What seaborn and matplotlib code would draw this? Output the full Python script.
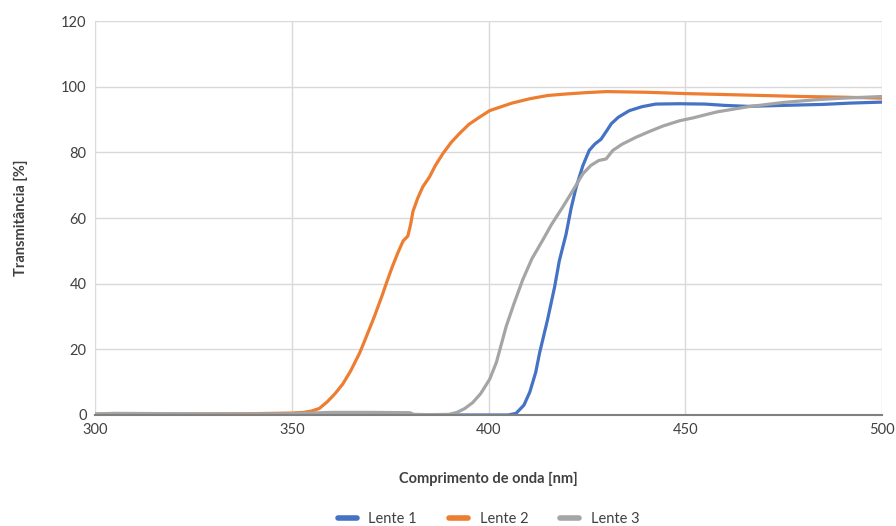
import matplotlib
matplotlib.use("Agg")
import matplotlib.pyplot as plt
import seaborn as sns
import pandas as pd

# Lente 1 (blue)
wl_1 = [300, 350, 400, 405, 407, 409, 410.5, 412, 413, 415, 416.8, 418, 419.7, 421, 422.3,
        424, 425.6, 427, 428.6, 430, 431.2, 433, 435.8, 439, 442.5, 448.5, 455, 460, 466,
        475, 485, 492, 500]
t_1 = [0, 0, 0, 0, 0.5, 3, 7, 13, 19, 29, 39, 47, 55, 63, 69.5,
       76, 80.6, 82.5, 84, 86.5, 88.7, 90.7, 92.7, 93.9, 94.7, 94.8, 94.7, 94.3, 94.0,
       94.3, 94.6, 95.0, 95.3]

# Lente 2 (orange)
wl_2 = [300, 320, 340, 350, 353, 355, 357, 359, 361, 363, 365, 367.3, 369, 371, 373, 374,
        375.5, 377, 378.3, 379.5, 380.2, 380.8, 382, 383.3, 385, 386.5, 388.4, 390.5, 392.6,
        395, 397.7, 400.3, 403, 406, 410.4, 415, 418.9, 425, 430, 435, 440, 445, 450, 460,
        470, 480, 490, 500]
t_2 = [0.3, 0.3, 0.4, 0.6, 0.8, 1.2, 2, 4, 6.5, 9.5, 13.5, 19, 24, 30, 36.5, 40,
       45, 49.5, 53, 54.5, 58, 62, 66, 69.5, 72.5, 76, 79.6, 83, 85.7,
       88.5, 90.7, 92.7, 93.8, 95, 96.3, 97.3, 97.7, 98.2, 98.5, 98.4, 98.3, 98.1, 97.9, 97.6,
       97.3, 97.0, 96.8, 96.5]

# Lente 3 (gray)
wl_3 = [300, 305, 320, 340, 350, 355, 360, 370, 380, 381, 385, 390, 392, 394, 396, 398,
        400.3, 402, 404.5, 406.5, 408.7, 411, 413.8, 416, 418.9, 421, 424, 426, 428, 429.9,
        431.6, 434, 437.5, 441, 444.3, 448.5, 452, 458, 466, 475, 483, 490, 500]
t_3 = [0.3, 0.5, 0.4, 0.3, 0.4, 0.6, 0.8, 0.8, 0.7, 0.2, 0.1, 0.2, 0.8, 2, 3.8, 6.5,
       10.9, 16, 27, 34, 41.2, 47.5, 53.3, 58, 63.4, 67.5, 73.5, 76, 77.5, 78,
       80.6, 82.5, 84.6, 86.4, 88, 89.6, 90.5, 92.3, 93.9, 95.2, 96, 96.5, 97.0]

series_names = ["Lente 1", "Lente 2", "Lente 3"]
colors = ["#4472C4", "#ED7D31", "#A5A5A5"]
x_ticks = [300, 350, 400, 450, 500]
y_ticks = [0, 20, 40, 60, 80, 100, 120]

df = pd.concat([
    pd.DataFrame({"wl": wl_1, "T": t_1, "Lente": series_names[0]}),
    pd.DataFrame({"wl": wl_2, "T": t_2, "Lente": series_names[1]}),
    pd.DataFrame({"wl": wl_3, "T": t_3, "Lente": series_names[2]}),
], ignore_index=True)

sns.set_theme(style="white")
plt.rcParams["font.family"] = ["Lato", "DejaVu Sans"]

fig = plt.figure(figsize=(8.96, 5.26), dpi=100)
ax = fig.add_axes([95 / 896, 1 - 415 / 526, (882 - 95) / 896, (415 - 21) / 526])

sns.lineplot(data=df, x="wl", y="T", hue="Lente", palette=colors, hue_order=series_names,
             linewidth=2.3, ax=ax, sort=True, estimator=None)

ax.set_xlim(300, 500)
ax.set_ylim(0, 120)
ax.set_xticks(x_ticks)
ax.set_yticks(y_ticks)
ax.grid(True, color="#d9d9d9", linewidth=1.0)
ax.set_axisbelow(True)
for s in ["top", "right", "left"]:
    ax.spines[s].set_visible(False)
ax.spines["bottom"].set_color("#808080")
ax.spines["bottom"].set_linewidth(1.5)
ax.spines["bottom"].set_zorder(5)
ax.tick_params(axis="both", length=0, labelsize=10.5, colors="#404040", pad=6)

ax.set_xlabel("Comprimento de onda [nm]", fontsize=10.5, fontweight="bold", color="#404040", labelpad=25)
ax.set_ylabel("Transmitância [%]", fontsize=10.5, fontweight="bold", color="#404040", labelpad=24)

handles, labels = ax.get_legend_handles_labels()
ax.legend(handles, labels, loc="center", bbox_to_anchor=(0.5, -0.265), ncol=3, frameon=False,
          fontsize=10.5, handlelength=1.3, columnspacing=2.2, labelcolor="#404040")
for line in ax.get_legend().get_lines():
    line.set_linewidth(4)

fig.savefig("out.png", dpi=100)
